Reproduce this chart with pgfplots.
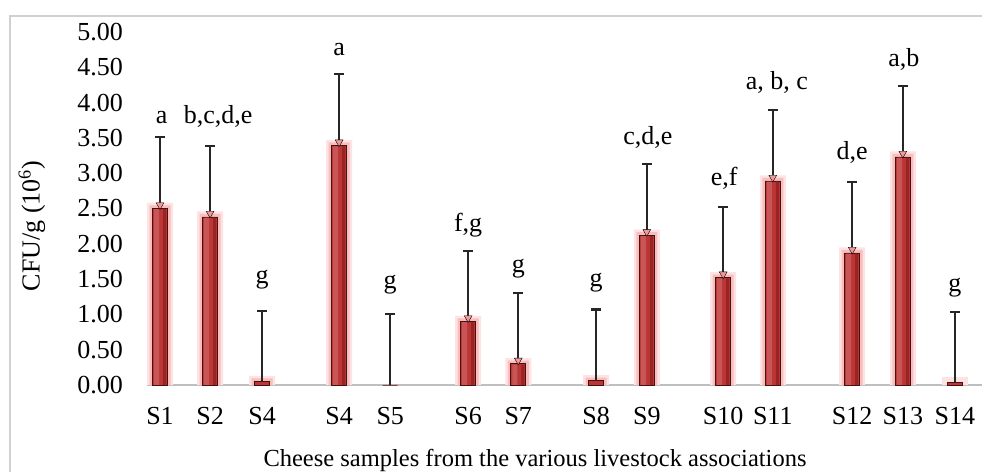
\documentclass[border=0pt]{standalone}
\usepackage{fontspec}
\setmainfont{Liberation Serif}
\usepackage{pgfplots}
\pgfplotsset{compat=1.18}
\usepackage{pgfplotstable}
\definecolor{barMain}{HTML}{BD3636}
\definecolor{barHi}{HTML}{C85656}
\definecolor{barDark}{HTML}{982424}
\definecolor{barEdge}{HTML}{4A1010}
\definecolor{glowA}{HTML}{FDE3E3}
\definecolor{glowB}{HTML}{F8BDBD}
\definecolor{triCol}{HTML}{F29A9A}
\definecolor{axgray}{HTML}{BFBFBF}
\definecolor{bordergray}{HTML}{D0D0D0}
\definecolor{errcol}{HTML}{262626}

\pgfplotstableread{
x v e
0 2.50 1.01
0.99 2.38 1.00
2.02 0.05 1.00
3.54 3.39 1.01
4.55 0 1.00
6.09 0.90 1.00
7.08 0.30 1.00
8.62 0.06 1.01
9.62 2.12 1.01
11.13 1.52 1.00
12.11 2.89 1.01
13.68 1.87 1.01
14.68 3.23 1.00
15.71 0.03 1.00
}\data

\newcommand{\lbl}{\fontsize{26}{30}\selectfont}

\begin{document}
\begin{tikzpicture}
\useasboundingbox (0pt,0pt) rectangle (982pt,471pt);
\draw[color=bordergray, line width=1.3pt] (10pt,-5pt) -- (10pt,455pt) -- (990pt,455pt);
\begin{axis}[
  at={(147pt,86pt)}, anchor=south west,
  scale only axis, width=835pt, height=353pt,
  xmin=-0.257, xmax=16.245, ymin=0, ymax=5,
  axis x line*=bottom, axis y line*=left,
  y axis line style={draw=none},
  x axis line style={draw=axgray, line width=2pt, -},
  major tick length=0pt, tick style={draw=none},
  ytick={0,0.5,...,5},
  yticklabel style={anchor=east, inner sep=0pt, xshift=-24pt, font=\lbl,
    /pgf/number format/fixed, /pgf/number format/fixed zerofill,
    /pgf/number format/precision=2},
  /pgf/number format/assume math mode=true,
  xtick={0,0.99,2.02,3.54,4.55,6.09,7.08,8.62,9.62,11.13,12.11,13.68,14.68,15.71},
  xticklabels={S1,S2,S4,S4,S5,S6,S7,S8,S9,S10,S11,S12,S13,S14},
  xticklabel style={anchor=north, inner sep=0pt, yshift=-22pt, font=\lbl},
  clip=false,
]
% soft glow around each bar
\addplot[ybar, bar width=26pt, bar shift=0pt, draw=none, fill=glowA,
  y filter/.expression={y<0.09 ? nan : y}]
  table[x=x, y expr=\thisrow{v}+0.08] {\data};
\addplot[ybar, bar width=21pt, bar shift=0pt, draw=none, fill=glowB,
  y filter/.expression={y<0.09 ? nan : y}]
  table[x=x, y expr=\thisrow{v}+0.045] {\data};
% main bars
\addplot[ybar, bar width=15pt, bar shift=0pt, draw=barEdge, line width=0.9pt,
  fill=barMain]
  table[x=x, y=v] {\data};
% lighter left strip and darker right strip inside each bar
\addplot[ybar, bar width=5pt, bar shift=-3.5pt, draw=none, fill=barHi,
  y filter/.expression={y<0.09 ? nan : y}]
  table[x=x, y expr=\thisrow{v}-0.01] {\data};
\addplot[ybar, bar width=3pt, bar shift=4.5pt, draw=none, fill=barDark,
  y filter/.expression={y<0.09 ? nan : y}]
  table[x=x, y expr=\thisrow{v}-0.01] {\data};
% small bevel triangle at the top of each bar
\addplot[only marks, mark=triangle*, mark size=4.5pt,
  mark options={rotate=180, fill=triCol, draw=none, yshift=-3.5pt},
  y filter/.expression={y<0.2 ? nan : y}]
  table[x=x, y=v] {\data};
% error bars
\addplot[draw=none, mark=none,
  error bars/.cd, y dir=plus, y explicit,
  error bar style={line width=2.2pt, color=errcol},
  error mark options={rotate=90, mark size=5pt, line width=2.2pt, color=errcol}]
  table[x=x, y=v, y error=e] {\data};

\node[anchor=base, font=\lbl] at (axis cs:0.03,3.71) {a};
\node[anchor=base, font=\lbl] at (axis cs:1.15,3.70) {b,c,d,e};
\node[anchor=base, font=\lbl] at (axis cs:2.02,1.44) {g};
\node[anchor=base, font=\lbl] at (axis cs:3.54,4.67) {a};
\node[anchor=base, font=\lbl] at (axis cs:4.55,1.36) {g};
\node[anchor=base, font=\lbl] at (axis cs:6.09,2.17) {f,g};
\node[anchor=base, font=\lbl] at (axis cs:7.08,1.60) {g};
\node[anchor=base, font=\lbl] at (axis cs:8.62,1.40) {g};
\node[anchor=base, font=\lbl] at (axis cs:9.64,3.40) {c,d,e};
\node[anchor=base, font=\lbl] at (axis cs:11.15,2.83) {e,f};
\node[anchor=base, font=\lbl] at (axis cs:12.19,4.18) {a, b, c};
\node[anchor=base, font=\lbl] at (axis cs:13.68,3.19) {d,e};
\node[anchor=base, font=\lbl] at (axis cs:14.70,4.51) {a,b};
\node[anchor=base, font=\lbl] at (axis cs:15.71,1.32) {g};
\end{axis}
\node[rotate=90, font=\lbl] at (32pt,245pt) {CFU/g (10\textsuperscript{6})};
\node[anchor=base, font=\fontsize{24.5}{28}\selectfont] at (535pt,4.3pt) {Cheese samples from the various livestock associations};
\end{tikzpicture}
\end{document}
